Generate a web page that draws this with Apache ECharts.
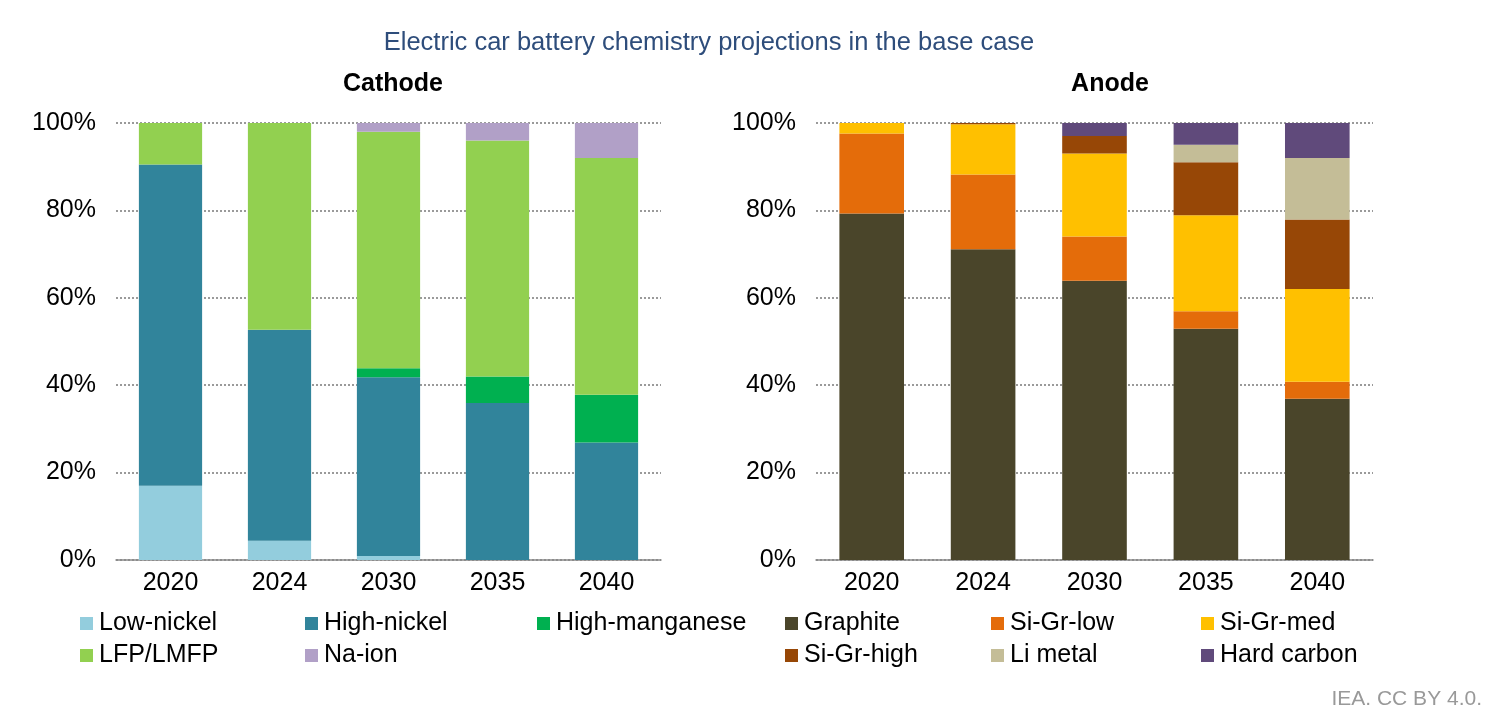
<!DOCTYPE html>
<html>
<head>
<meta charset="utf-8">
<script src="https://cdn.jsdelivr.net/npm/echarts@6/dist/echarts.min.js"></script>
<style>
    html, body { margin: 0; padding: 0; background: #fff; }
    #chart { width: 1489px; height: 718px; }
</style>
</head>
<body>
<div id="chart"></div>
<script>
    // 数据
    var years = ['2020', '2024', '2030', '2035', '2040'];

    var cathodeNames = ['Low-nickel', 'High-nickel', 'High-manganese', 'LFP/LMFP', 'Na-ion'];
    var lowNickel     = [17.0, 4.4, 0.9, 0, 0];
    var highNickel    = [73.5, 48.3, 40.9, 35.9, 26.9];
    var highManganese = [0, 0, 2.1, 6.1, 10.9];
    var lfpLmfp       = [9.5, 47.3, 54.1, 54.0, 54.2];
    var naIon         = [0, 0, 2.0, 4.0, 8.0];

    var anodeNames = ['Graphite', 'Si-Gr-low', 'Si-Gr-med', 'Si-Gr-high', 'Li metal', 'Hard carbon'];
    var graphite   = [79.3, 71.1, 63.9, 52.9, 36.9];
    var siGrLow    = [18.3, 17.1, 10.1, 4.0, 3.9];
    var siGrMed    = [2.4, 11.5, 19.0, 22.0, 21.2];
    var siGrHigh   = [0, 0.3, 4.0, 12.1, 15.9];
    var liMetal    = [0, 0, 0, 4.0, 14.1];
    var hardCarbon = [0, 0, 3.0, 5.0, 8.0];

    var cathodeColors = ['#93CDDD', '#31849B', '#00B050', '#92D050', '#B1A0C7'];
    var anodeColors = ['#4A452A', '#E46C0A', '#FFC000', '#974706', '#C4BD97', '#604A7B'];

    var FONT = 'Liberation Sans, Arial, sans-serif';
    var FS = 25;

    function barSeries(name, data, color, idx){
        return {
            name: name,
            type: 'bar',
            stack: 'total' + idx,
            xAxisIndex: idx,
            yAxisIndex: idx,
            barWidth: '58%',
            itemStyle: { color: color },
            data: data
        };
    }

    // 图例：每项单独定位，保证列对齐
    function legendItem(name, left, top){
        return {
            data: [name],
            left: left,
            top: top,
            itemWidth: 13,
            itemHeight: 13,
            itemGap: 0,
            icon: 'rect',
            padding: 0,
            selectedMode: false,
            textStyle: { fontFamily: FONT, fontSize: FS, color: '#000', padding: [0, 0, 0, 1] }
        };
    }

    var myChart = echarts.init(document.getElementById('chart'));

    var cathodeData = [lowNickel, highNickel, highManganese, lfpLmfp, naIon];
    var anodeData = [graphite, siGrLow, siGrMed, siGrHigh, liMetal, hardCarbon];

    var series = [];
    cathodeNames.forEach(function(n, i){ series.push(barSeries(n, cathodeData[i], cathodeColors[i], 0)); });
    anodeNames.forEach(function(n, i){ series.push(barSeries(n, anodeData[i], anodeColors[i], 1)); });

    var leftCols = [80, 305, 537];
    var rightCols = [785, 991, 1201];
    var rows = [611, 643];
    var legends = [];
    cathodeNames.forEach(function(n, i){
        legends.push(legendItem(n, leftCols[i % 3], rows[Math.floor(i / 3)]));
    });
    anodeNames.forEach(function(n, i){
        legends.push(legendItem(n, rightCols[i % 3], rows[Math.floor(i / 3)]));
    });

    function yAxisCfg(idx){
        return {
            type: 'value',
            gridIndex: idx,
            min: 0,
            max: 100,
            interval: 20,
            axisLine: { show: false },
            axisTick: { show: false },
            axisLabel: {
                formatter: '{value}%',
                margin: 20,
                fontFamily: FONT,
                fontSize: FS,
                color: '#000'
            },
            splitLine: {
                show: true,
                lineStyle: { color: '#9a9a9a', width: 2, type: [2, 2] }
            }
        };
    }

    function xAxisCfg(idx){
        return {
            type: 'category',
            gridIndex: idx,
            data: years,
            axisLine: { lineStyle: { color: '#888', width: 1.5 } },
            axisTick: { show: false },
            axisLabel: {
                margin: 11,
                fontFamily: FONT,
                fontSize: FS,
                color: '#000'
            }
        };
    }

    var option = {
        animation: false,
        backgroundColor: '#fff',
        title: [
            {
                text: 'Electric car battery chemistry projections in the base case',
                left: 704, top: 25, textAlign: 'center',
                textStyle: { fontFamily: FONT, fontSize: 25.5, fontWeight: 'normal', color: '#2E4D7B' }
            },
            {
                text: 'Cathode', left: 388, top: 67, textAlign: 'center',
                textStyle: { fontFamily: FONT, fontSize: FS, fontWeight: 'bold', color: '#000' }
            },
            {
                text: 'Anode', left: 1105, top: 67, textAlign: 'center',
                textStyle: { fontFamily: FONT, fontSize: FS, fontWeight: 'bold', color: '#000' }
            },
            {
                text: 'IEA. CC BY 4.0.', right: 2, top: 684,
                textStyle: { fontFamily: FONT, fontSize: 21, fontWeight: 'normal', color: '#999' }
            }
        ],
        legend: legends,
        grid: [
            { left: 116, top: 123, width: 545, height: 437 },
            { left: 816, top: 123, width: 557, height: 437 }
        ],
        xAxis: [xAxisCfg(0), xAxisCfg(1)],
        yAxis: [yAxisCfg(0), yAxisCfg(1)],
        series: series
    };
    myChart.setOption(option);
</script>
</body>
</html>
